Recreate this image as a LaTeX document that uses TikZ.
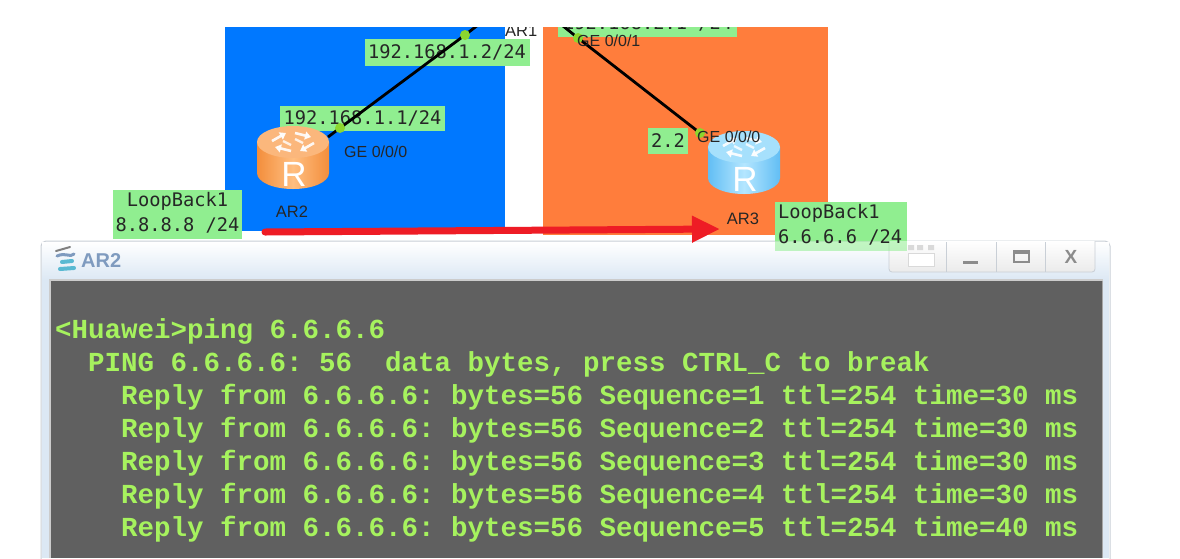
\documentclass[tikz,border=0pt]{standalone}
\usepackage{fontspec}
\setmainfont{Liberation Sans}
\setmonofont{DejaVu Sans Mono}
\newfontfamily\consolefont{Liberation Mono}[BoldFont={Liberation Mono Bold}]
\usetikzlibrary{arrows.meta,calc}
\definecolor{labgreen}{HTML}{90EE90}
\definecolor{zoneblue}{HTML}{0078FF}
\definecolor{zoneorange}{HTML}{FF7D3C}
\definecolor{dotgreen}{HTML}{8CD62E}
\definecolor{consolegray}{HTML}{606060}
\definecolor{consoletext}{HTML}{A6F25E}
\definecolor{arrowred}{HTML}{EE1C25}
\definecolor{chrome}{HTML}{C9CFD6}
\definecolor{framepale}{HTML}{DCE8F4}
\definecolor{titleblue}{HTML}{7F9BBF}
\definecolor{orlight}{HTML}{FFBE80}
\definecolor{ordark}{HTML}{F38E3C}
\definecolor{ortop}{HTML}{FBB77C}
\definecolor{bllight}{HTML}{B4E6FF}
\definecolor{bldark}{HTML}{62BEF4}
\definecolor{bltop}{HTML}{A6E0FC}
\tikzset{
  iplabel/.style={fill=labgreen,inner sep=0pt,font=\ttfamily\frenchspacing\fontsize{18.7}{22}\selectfont,text=black!85,anchor=center,align=left},
  looptext/.style={font=\ttfamily\frenchspacing\fontsize{18.7}{25}\selectfont,text=black!85,inner sep=0pt},
  portlabel/.style={inner sep=0pt,font=\fontsize{16}{18}\selectfont,text=black!85},
  devlabel/.style={inner sep=0pt,font=\fontsize{16.5}{18}\selectfont,text=black!85},
  portdot/.style={circle,fill=dotgreen,inner sep=0pt,minimum size=10pt},
  linkline/.style={line width=2.8pt,black},
  consoleline/.style={inner sep=0pt,anchor=base west,font=\consolefont\bfseries\frenchspacing\fontsize{27.5}{30}\selectfont,text=consoletext},
  winbtn/.style={draw=chrome,line width=.8pt,top color=white,bottom color=black!8},
  routerarrow/.style={white,line width=2.6pt,opacity=.9,-{Triangle[length=6pt,width=8pt]}},
}
\newcommand{\routerbody}[5]{%
  \begin{scope}[shift={(#1,#2)}]
    \shade[left color=#4,right color=#4,middle color=#3]
      (-36,0) -- (-36,31) .. controls (-36,40) and (-20,47) .. (0,47) .. controls (20,47) and (36,40) .. (36,31) -- (36,0) -- cycle;
    \fill[#5] (0,0) ellipse[x radius=36,y radius=16];
    \draw[routerarrow] (-21,-1) -- (-7,-9);
    \draw[routerarrow] (2,-9) -- (18,-5);
    \draw[routerarrow] (21,1) -- (7,9);
    \draw[routerarrow] (-2,9) -- (-18,5);
    \draw[white,line width=2.4pt,opacity=.8] (-10,-1) -- (-2,3) (10,1) -- (2,-3);
    \node[inner sep=0pt,text=white,font=\fontsize{35}{35}\selectfont] at (1,32) {R};
  \end{scope}}
\begin{document}
\begin{tikzpicture}[x=1pt,y=-1pt]
\useasboundingbox (0,0) rectangle (1180,558);
\fill[white] (0,0) rectangle (1180,558);
\begin{scope}
  \clip (0,27) rectangle (1180,558);
  \fill[zoneblue] (225,27) rectangle (505,231);
  \fill[zoneorange] (543,27) rectangle (828,235);
  \node[devlabel,anchor=west] (ar1) at (505,31) {AR1};
  \node[iplabel,minimum width=179pt,minimum height=20pt] (ip3) at (647.5,27) {};
  \node[inner sep=0pt,anchor=base west,font=\ttfamily\frenchspacing\fontsize{18.7}{22}\selectfont,text=black!85] (ip3t) at (563,29) {192.168.2.1 /24};
  \node[iplabel,minimum width=165pt,minimum height=27pt] (ip2) at (447,52.5) {192.168.1.2/24};
  \node[iplabel,minimum width=165pt,minimum height=25pt] (ip1) at (362.5,118) {192.168.1.1/24};
  \node[iplabel,minimum width=40pt,minimum height=26pt] (ip4) at (668,141) {2.2};
  \coordinate (ar1a) at (478,25);
  \coordinate (ar1b) at (563,26);
  \coordinate (d1) at (465,35);
  \coordinate (d2) at (340,128);
  \coordinate (d3) at (578,38);
  \coordinate (d4) at (700,133);
  \coordinate (r2top) at (328,137);
  \draw[linkline] (ar1a) -- (d1) -- (d2) -- (r2top);
  \draw[linkline] (ar1b) -- (d3) -- (d4);
  \node[portdot] (dot1) at (d1) {};
  \node[portdot] (dot2) at (d2) {};
  \node[portdot] (dot3) at (d3) {};
  \node[portdot] (dot4) at (d4) {};
  \node[portlabel,anchor=west] (p1) at (577,41) {GE 0/0/1};
\end{scope}
\routerbody{293}{142}{orlight}{ordark}{ortop}
\routerbody{744}{147}{bllight}{bldark}{bltop}
\node[portlabel,anchor=west] (p0) at (344,152) {GE 0/0/0};
\node[portlabel,anchor=west] (p2) at (697,137) {GE 0/0/0};
\node[devlabel] (ar2) at (292,212) {AR2};
\node[devlabel] (ar3) at (743,219) {AR3};
\node[iplabel,minimum width=129pt,minimum height=49pt] (lb2) at (177.5,214) {};
\node[looptext,align=center] (lb2t) at (177.5,213) {LoopBack1\\8.8.8.8 /24};
% window
\path[fill=white,draw=chrome,line width=1pt,rounded corners=5pt] (41,600) -- (41,241) -- (1110,241) -- (1110,600);
\shade[top color=white,bottom color=framepale] (42,242) rectangle (1109,280);
\fill[framepale] (42,280) rectangle (50,558);
\fill[framepale] (1103,280) rectangle (1109,558);
\fill[consolegray] (50,280) rectangle (1103,558);
\draw[black!20,line width=1.5pt] (50,558) -- (50,280) -- (1103,280);
\draw[black!35,line width=1.2pt] (1102.5,281) -- (1102.5,558);
\node[inner sep=0pt,anchor=west,font=\bfseries\fontsize{20}{22}\selectfont,text=titleblue] (title) at (81,261) {AR2};
% title icon
\draw[titleblue,line width=3pt,line cap=round] (57,256) .. controls (66,252) and (70,258) .. (74,254);
\draw[titleblue!70!cyan,line width=4pt,line cap=round] (62,262) -- (72,261) (60,269) -- (74,268);
\draw[gray,line width=2pt,line cap=round] (56,251) -- (70,247);
% buttons
\draw[winbtn,rounded corners=3pt] (889,241) -- (889,272) -- (1095,272) -- (1095,241);
\draw[chrome,line width=.8pt] (946,242) -- (946,272) (996,242) -- (996,272) (1045,242) -- (1045,272);
\fill[white,draw=black!15] (908,253) rectangle (934,266);
\fill[black!15] (908,245) rectangle (914,250) (917,245) rectangle (923,250) (928,245) rectangle (934,250);
\fill[black!45] (963,261) rectangle (978,263.5);
\draw[black!45,line width=1.5pt] (1014,251) rectangle (1029,262);
\fill[black!45] (1014,250.5) rectangle (1029,254);
\node[inner sep=0pt,text=black!45,font=\bfseries\fontsize{19}{20}\selectfont] (btnx) at (1071,257) {X};
% LoopBack1 of AR3 (translucent over the window)
\fill[labgreen] (775,202) rectangle (907,241);
\fill[labgreen,opacity=.55] (775,241) rectangle (907,251);
\node[looptext,align=left,anchor=west] (lb3) at (778,225) {LoopBack1\\6.6.6.6 /24};
% red arrow
\coordinate (ra) at (265,232);
\coordinate (rb) at (720,229);
\draw[arrowred,line width=7pt,line cap=round,-{Triangle[length=28pt,width=25pt]}] (ra) -- (rb);
% console text
\node[consoleline] (c0) at (55,338) {<Huawei>ping 6.6.6.6};
\node[consoleline] (c1) at (88,371) {PING 6.6.6.6: 56\ \ data bytes, press CTRL\_C to break};
\node[consoleline] (c2) at (121,404) {Reply from 6.6.6.6: bytes=56 Sequence=1 ttl=254 time=30 ms};
\node[consoleline] (c3) at (121,437) {Reply from 6.6.6.6: bytes=56 Sequence=2 ttl=254 time=30 ms};
\node[consoleline] (c4) at (121,470) {Reply from 6.6.6.6: bytes=56 Sequence=3 ttl=254 time=30 ms};
\node[consoleline] (c5) at (121,503) {Reply from 6.6.6.6: bytes=56 Sequence=4 ttl=254 time=30 ms};
\node[consoleline] (c6) at (121,536) {Reply from 6.6.6.6: bytes=56 Sequence=5 ttl=254 time=40 ms};
\end{tikzpicture}
\end{document}
